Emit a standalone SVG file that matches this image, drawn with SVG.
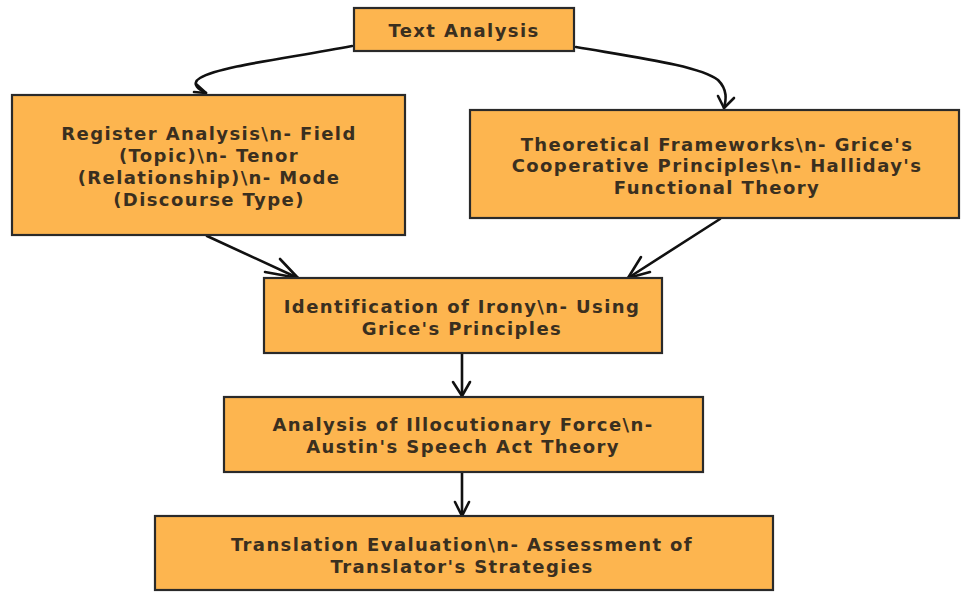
<svg xmlns="http://www.w3.org/2000/svg" width="961" height="594" viewBox="0 0 961 594">
<style>
.box{fill:#fdb54f;stroke:#2a2a2a;stroke-width:2.2}
.t{font-family:"DejaVu Sans",sans-serif;font-weight:700;font-size:18px;fill:#3a2f1f;text-anchor:middle;letter-spacing:1.4px}
.c{fill:none;stroke:#111;stroke-width:2.6;stroke-linecap:round;stroke-linejoin:round}
</style>
<rect width="961" height="594" fill="#fff"/>
<g id="connectors">
<path class="c" d="M352 46 C 290 58, 220 66, 200 78 C 190 84, 200 90, 206 93"/>
<path class="c" d="M196 84 L206 93 L194 92"/>
<path class="c" d="M576 47 C 640 58, 700 66, 718 80 C 728 90, 726 100, 724 108"/>
<path class="c" d="M718 96 L724 108 L734 98"/>
<path class="c" d="M207 236 L298 278"/>
<path class="c" d="M280 259 L298 278 L265 272"/>
<path class="c" d="M720 219 L628 278"/>
<path class="c" d="M641 257 L628 278 L650 272"/>
<path class="c" d="M462 354 L462 396"/>
<path class="c" d="M453 382 L462 396 L470 382"/>
<path class="c" d="M462 472 L462 516"/>
<path class="c" d="M455 502 L462 516 L469 502"/>
</g>
<g id="n1"><rect class="box" x="354" y="8" width="220" height="43"/><text class="t" x="464" y="37">Text Analysis</text></g>
<g id="n2"><rect class="box" x="12" y="95" width="393" height="140"/>
<text class="t" x="209" y="140">Register Analysis\n- Field</text>
<text class="t" x="209" y="162">(Topic)\n- Tenor</text>
<text class="t" x="209" y="184">(Relationship)\n- Mode</text>
<text class="t" x="209" y="206">(Discourse Type)</text></g>
<g id="n3"><rect class="box" x="470" y="110" width="489" height="108"/>
<text class="t" x="717" y="151">Theoretical Frameworks\n- Grice's</text>
<text class="t" x="717" y="172">Cooperative Principles\n- Halliday's</text>
<text class="t" x="717" y="194">Functional Theory</text></g>
<g id="n4"><rect class="box" x="264" y="278" width="398" height="75"/>
<text class="t" x="462" y="313">Identification of Irony\n- Using</text>
<text class="t" x="462" y="335">Grice's Principles</text></g>
<g id="n5"><rect class="box" x="224" y="397" width="479" height="75"/>
<text class="t" x="463" y="431">Analysis of Illocutionary Force\n-</text>
<text class="t" x="463" y="453">Austin's Speech Act Theory</text></g>
<g id="n6"><rect class="box" x="155" y="516" width="618" height="74"/>
<text class="t" x="462" y="551">Translation Evaluation\n- Assessment of</text>
<text class="t" x="462" y="573">Translator's Strategies</text></g>
</svg>
